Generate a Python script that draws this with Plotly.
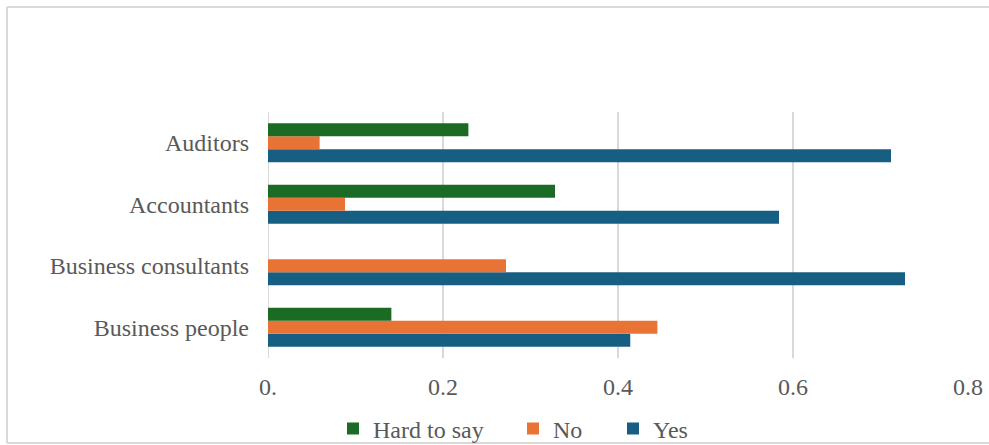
import plotly.graph_objects as go

# Survey answers by respondent group (share of respondents)
categories = ["Business people", "Business consultants", "Accountants", "Auditors"]
yes_values = [0.414, 0.728, 0.584, 0.712]
no_values = [0.445, 0.272, 0.088, 0.059]
hard_values = [0.141, 0.0, 0.328, 0.229]

x_tickvals = [0, 0.2, 0.4, 0.6, 0.8]
x_ticktext = ["0.", "0.2", "0.4", "0.6", "0.8"]

FONT = "Liberation Serif"
TEXT_COLOR = "#595959"
GRID_COLOR = "#d9d9d9"
FS = 24

W, H = 989, 445
M_L, M_R, M_T, M_B = 268, 21, 112, 87
PW = W - M_L - M_R
PH = H - M_T - M_B


def px_x(p):
    return (p - M_L) / PW


def px_y(p):
    return (H - M_B - p) / PH


fig = go.Figure()

# trace order sets the bar order inside each group: first trace sits lowest
fig.add_trace(go.Bar(y=categories, x=yes_values, name="Yes", orientation="h",
                     marker=dict(color="#175f82", line=dict(width=0)),
                     legend="legend3"))
fig.add_trace(go.Bar(y=categories, x=no_values, name="No", orientation="h",
                     marker=dict(color="#e97334", line=dict(width=0)),
                     legend="legend2"))
fig.add_trace(go.Bar(y=categories, x=hard_values, name="Hard to say", orientation="h",
                     marker=dict(color="#1b6b25", line=dict(width=0)),
                     legend="legend"))

leg_y = px_y(429)
leg_common = dict(yanchor="middle", xanchor="left", bgcolor="rgba(0,0,0,0)",
                  borderwidth=0, font=dict(family=FONT, size=FS, color=TEXT_COLOR))

# chart frame: left, top and bottom edges (the right edge lies off the page)
fx0, fx1, fy0, fy1 = px_x(7), px_x(989), px_y(443), px_y(7)
frame_line = dict(color=GRID_COLOR, width=2)
frame = [
    dict(type="line", xref="paper", yref="paper", x0=fx0, x1=fx0, y0=fy0, y1=fy1,
         line=frame_line, layer="below"),
    dict(type="line", xref="paper", yref="paper", x0=fx0, x1=fx1, y0=fy1, y1=fy1,
         line=frame_line, layer="below"),
    dict(type="line", xref="paper", yref="paper", x0=fx0, x1=fx1, y0=fy0, y1=fy0,
         line=frame_line, layer="below"),
]

fig.update_layout(
    width=W, height=H,
    margin=dict(l=M_L, r=M_R, t=M_T, b=M_B, autoexpand=False),
    paper_bgcolor="white", plot_bgcolor="white",
    barmode="group", bargap=0.366, bargroupgap=0,
    font=dict(family=FONT, size=FS, color=TEXT_COLOR),
    showlegend=True,
    legend=dict(x=px_x(333), y=leg_y, **leg_common),
    legend2=dict(x=px_x(513), y=leg_y, **leg_common),
    legend3=dict(x=px_x(613), y=leg_y, **leg_common),
    xaxis=dict(
        range=[0, 0.8], tickvals=x_tickvals, ticktext=x_ticktext,
        showgrid=True, gridcolor=GRID_COLOR, gridwidth=2,
        zeroline=False, showline=False, ticks="",
        ticklabelstandoff=12, automargin=False,
        tickfont=dict(family=FONT, size=FS, color=TEXT_COLOR),
    ),
    yaxis=dict(
        showgrid=False, zeroline=False, showline=False, ticks="",
        ticklabelstandoff=18, automargin=False,
        tickfont=dict(family=FONT, size=FS, color=TEXT_COLOR),
    ),
    shapes=frame + [
        # gridline at zero drawn like the others
        dict(type="line", xref="x", yref="paper", x0=0, x1=0, y0=0, y1=1,
             line=dict(color=GRID_COLOR, width=2), layer="below"),
    ],
)

fig.write_html("out.html")
